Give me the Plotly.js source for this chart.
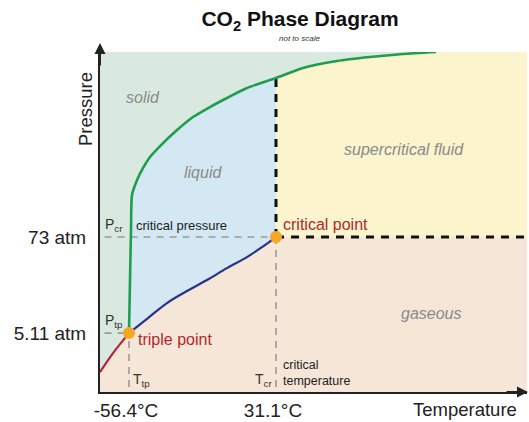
<!DOCTYPE html>
<html><head><meta charset="utf-8">
<script src="https://cdn.plot.ly/plotly-3.0.1.min.js"></script>
<style>html,body{margin:0;padding:0;background:#fff}#chart{width:529px;height:422px}</style>
</head><body><div id="chart"></div>
<script>
// CO2 phase diagram (not to scale): temperature in °C, pressure in atm (log axis)
const meltT = [-56.4,-55.8,-55.2,-54.6,-51.6,-48.1,-43.9,-37.9,-27.8,-18.3,-8.2,1.9,13.8,31.1,47.2,67.4,87.0,106.7,126.3];
const meltP = [5.11,22.2,88.5,234,354,493,670,908,1414,2028,2674,3432,4528,5972,7876,9563,10683,11612,12270];
const boilT = [-56.4,-45.1,-33.8,-21.9,-10.0,1.9,13.8,22.8,31.1];
const boilP = [5.11,7.74,11.73,16.36,22.2,30.9,41.9,55.3,73];
const sublT = [-73.7,-65.9,-56.4];
const sublP = [1.73,2.94,5.11];
const pointNames = ['triple point','critical point'];
const pointT = [-56.4, 31.1];
const pointP = [5.11, 73];
const tempTicks = ['-56.4°C','31.1°C'];
const presTicks = ['5.11 atm','73 atm'];
const regionNames = ['solid','liquid','supercritical fluid','gaseous'];

const FONT = 'Liberation Sans, Arial, Helvetica, sans-serif';
const xRange = [-73.66, 180.5];
const yRange = [0, 4.089];
const xlo = xRange[0]-5, xhi = xRange[1]+5;
const ylo = 0.8, yhi = Math.pow(10, yRange[1])*1.2;
const [Ttp, Tcr] = pointT;
const [Ptp, Pcr] = pointP;
const iCr = meltT.indexOf(Tcr);
const lastT = meltT[meltT.length-1];

const col = {solid:'#d9e9df', liquid:'#d3e8f3', sc:'#fbf4cd', gas:'#f6e6d7'};

const traces = [];
// solid region
traces.push({x:[xlo, xlo, ...sublT, ...meltT.slice(1), lastT, xlo],
  y:[yhi, sublP[0], ...sublP, ...meltP.slice(1), yhi, yhi],
  fill:'toself', fillcolor:col.solid, line:{width:0}, mode:'lines', hoverinfo:'skip'});
// liquid region
traces.push({x:[...meltT.slice(0,iCr+1), ...boilT.slice().reverse()],
  y:[...meltP.slice(0,iCr+1), ...boilP.slice().reverse()],
  fill:'toself', fillcolor:col.liquid, line:{width:0}, mode:'lines', hoverinfo:'skip'});
// supercritical region
traces.push({x:[Tcr, ...meltT.slice(iCr), lastT, xhi, xhi, Tcr],
  y:[Pcr, ...meltP.slice(iCr), yhi, yhi, Pcr, Pcr],
  fill:'toself', fillcolor:col.sc, line:{width:0}, mode:'lines', hoverinfo:'skip'});
// gray guide dashes
traces.push({x:[xlo, Tcr, null, Tcr, Tcr, null, xlo, Ttp, null, Ttp, Ttp],
  y:[Pcr, Pcr, null, ylo, Pcr, null, Ptp, Ptp, null, ylo, Ptp],
  mode:'lines', line:{color:'#9a9a9a', width:1.6, dash:'7px,6px'}, hoverinfo:'skip'});
// black boundary dashes
traces.push({x:[Tcr, xhi, null, Tcr, Tcr],
  y:[Pcr, Pcr, null, Pcr, meltP[iCr]],
  mode:'lines', line:{color:'#111', width:3, dash:'8px,7px'}, hoverinfo:'skip'});
// curves
traces.push({x:sublT, y:sublP, mode:'lines', line:{color:'#b3263a', width:2.2, shape:'spline'}, hoverinfo:'skip'});
traces.push({x:boilT, y:boilP, mode:'lines', line:{color:'#25338a', width:2.2, shape:'spline'}, hoverinfo:'skip'});
traces.push({x:meltT, y:meltP, mode:'lines', line:{color:'#1f9d4f', width:2.6, shape:'spline', smoothing:0.6}, hoverinfo:'skip'});
// points
traces.push({x:pointT, y:pointP, text:pointNames, mode:'markers', marker:{color:'#f5a623', size:12}, hoverinfo:'text'});

const px = p => (p-100)/427;
const py = p => (392-p)/340;
const L10 = Math.log10;
const regionPos = [[143,97],[203,172],[404,149],[431,313]];
const ann = [];
regionNames.forEach((n,i)=>ann.push({xref:'paper',yref:'paper',x:px(regionPos[i][0]),y:py(regionPos[i][1]),
  xanchor:'center', yanchor:'middle',
  text:'<i>'+n+'</i>', showarrow:false, font:{size:16,color:'#8a8a8a'}}));
ann.push({xref:'paper',yref:'paper',x:px(299),y:py(39),xanchor:'center',yanchor:'middle',text:'<i>not to scale</i>',showarrow:false,font:{size:8,color:'#333'}});
ann.push({xref:'paper',yref:'paper',x:px(86),y:py(109),xanchor:'center',yanchor:'middle',text:'Pressure',textangle:-90,showarrow:false,font:{size:18.5,color:'#222'}});
ann.push({xref:'paper',yref:'paper',x:px(519),xanchor:'right',y:py(409),yanchor:'middle',text:'Temperature',showarrow:false,font:{size:18.5,color:'#222'}});
// arrowheads
ann.push({xref:'paper',yref:'paper',x:0,y:py(43),ax:0,ay:24,text:'',showarrow:true,arrowhead:2,arrowsize:1.1,arrowwidth:2,arrowcolor:'#222'});
ann.push({xref:'paper',yref:'paper',x:px(529),y:0,ax:-24,ay:0,text:'',showarrow:true,arrowhead:2,arrowsize:1.1,arrowwidth:2,arrowcolor:'#222'});
// point labels
ann.push({xref:'x',yref:'y',x:Ttp,y:L10(Ptp),xanchor:'left',yanchor:'middle',xshift:7,yshift:-6,text:pointNames[0],showarrow:false,font:{size:16,color:'#b3282d'}});
ann.push({xref:'x',yref:'y',x:Tcr,y:L10(Pcr),xanchor:'left',yanchor:'bottom',xshift:5,yshift:2,text:pointNames[1],showarrow:false,font:{size:16,color:'#b3282d'}});
ann.push({xref:'paper',yref:'y',x:0,y:L10(Pcr),xanchor:'left',yanchor:'bottom',xshift:3,yshift:1,text:'P<sub>cr</sub>',showarrow:false,font:{size:14,color:'#333'}});
ann.push({xref:'paper',yref:'y',x:px(134),y:L10(Pcr),xanchor:'left',yanchor:'bottom',yshift:2,text:'critical pressure',showarrow:false,font:{size:13,color:'#222'}});
ann.push({xref:'paper',yref:'y',x:0,y:L10(Ptp),xanchor:'left',yanchor:'bottom',xshift:3,yshift:1,text:'P<sub>tp</sub>',showarrow:false,font:{size:14,color:'#333'}});
ann.push({xref:'x',yref:'paper',x:Ttp,y:0,xanchor:'left',yanchor:'bottom',xshift:2,yshift:1,text:'T<sub>tp</sub>',showarrow:false,font:{size:14,color:'#333'}});
ann.push({xref:'x',yref:'paper',x:Tcr,y:0,xanchor:'right',yanchor:'bottom',xshift:-2,yshift:1,text:'T<sub>cr</sub>',showarrow:false,font:{size:14,color:'#333'}});
ann.push({xref:'x',yref:'paper',x:Tcr,y:0,xanchor:'left',yanchor:'bottom',xshift:5,yshift:2,align:'left',text:'critical<br>temperature',showarrow:false,font:{size:12.5,color:'#222'}});

const axisCommon = {showgrid:false, zeroline:false, showline:true, linecolor:'#222', linewidth:2,
  tickcolor:'rgba(0,0,0,0)', tickfont:{size:19,color:'#222'}, fixedrange:true};

const layout = {
  width:529, height:422,
  margin:{l:100, r:2, t:52, b:30},
  paper_bgcolor:'#ffffff', plot_bgcolor:col.gas,
  font:{family:FONT, color:'#222'},
  showlegend:false,
  title:{text:'<b>CO<sub>2</sub> Phase Diagram</b>', font:{size:21,color:'#111'},
    xref:'container', yref:'container', x:300/529, xanchor:'center', y:1-19/422, yanchor:'middle'},
  xaxis:Object.assign({range:xRange, tickvals:pointT, ticktext:tempTicks, ticks:'', ticklabelshift:-3}, axisCommon),
  yaxis:Object.assign({type:'log', range:yRange, tickvals:pointP, ticktext:presTicks, ticks:'outside', ticklen:8}, axisCommon),
  annotations:ann
};
Plotly.newPlot('chart', traces, layout, {displayModeBar:false, staticPlot:true});
</script></body></html>
